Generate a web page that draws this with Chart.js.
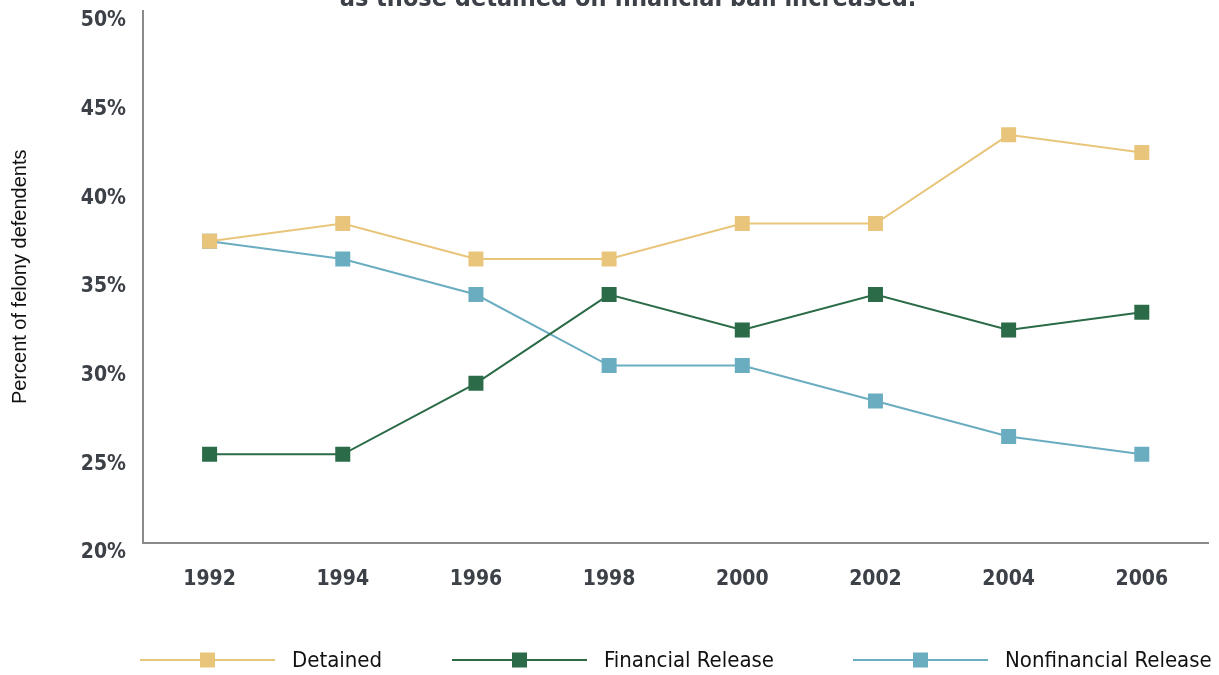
<!DOCTYPE html>
<html>
<head>
<meta charset="utf-8">
<script src="https://cdn.jsdelivr.net/npm/chart.js@4"></script>
<style>
  html, body { margin: 0; padding: 0; background: #fff; overflow: hidden; }
  #wrap { width: 1219px; height: 675px; position: relative; }
</style>
</head>
<body>
<div id="wrap"><canvas id="myChart"></canvas></div>
<script>
const ctx = document.getElementById('myChart');

const years = ['1992', '1994', '1996', '1998', '2000', '2002', '2004', '2006'];
const detained = [37, 38, 36, 36, 38, 38, 43, 42];
const financial = [25, 25, 29, 34, 32, 34, 32, 33];
const nonfinancial = [37, 36, 34, 30, 30, 28, 26, 25];
const seriesNames = ['Detained', 'Financial Release', 'Nonfinancial Release'];
const colors = ['#e9c57b', '#2b6b48', '#6aadc0'];

const condensed = "'Liberation Sans Narrow', 'DejaVu Sans Condensed', 'Roboto', sans-serif";

// cut-off headline at the very top + legend with line and marker
const extras = {
    id: 'extras',
    afterDraw(chart) {
        const c = chart.ctx;
        c.save();
        c.fillStyle = '#3c4047';
        c.font = "bold 25px " + condensed;
        c.textAlign = 'center';
        c.textBaseline = 'alphabetic';
        c.fillText('as those detained on financial bail increased.', 628, 6);

        const y = 660;
        const starts = [140, 452, 853];
        chart.data.datasets.forEach(function (ds, i) {
            const x0 = starts[i];
            c.strokeStyle = ds.borderColor;
            c.lineWidth = 2;
            c.beginPath();
            c.moveTo(x0, y);
            c.lineTo(x0 + 135, y);
            c.stroke();
            c.fillStyle = ds.borderColor;
            c.fillRect(x0 + 60, y - 7.5, 15, 15);
            c.fillStyle = '#111';
            c.font = "22px " + condensed;
            c.textAlign = 'left';
            c.textBaseline = 'middle';
            c.fillText(ds.label, x0 + 152, y + 1);
        });
        c.restore();
    }
};

function series(label, data, color) {
    return {
        label: label,
        data: data,
        borderColor: color,
        backgroundColor: color,
        borderWidth: 2,
        pointStyle: 'rect',
        pointRadius: 10.6,
        pointHoverRadius: 10.6,
        pointBorderWidth: 0,
        tension: 0
    };
}

const myChart = new Chart(ctx, {
    type: 'line',
    data: {
        labels: years,
        datasets: [
            series(seriesNames[0], detained, colors[0]),
            series(seriesNames[1], financial, colors[1]),
            series(seriesNames[2], nonfinancial, colors[2])
        ]
    },
    options: {
        responsive: true,
        maintainAspectRatio: false,
        animation: false,
        layout: { padding: { top: 10, right: 9, left: 0, bottom: 0 } },
        plugins: {
            legend: { display: false },
            tooltip: { enabled: false }
        },
        scales: {
            x: {
                offset: true,
                grid: { display: false, drawTicks: false },
                border: { color: '#8a8a8a', width: 2 },
                ticks: {
                    color: '#3c4047',
                    padding: 24,
                    font: { family: condensed, size: 21, weight: 'bold' }
                },
                afterFit(scale) {
                    scale.height = 132;
                    scale.paddingLeft = 0;
                    scale.paddingRight = 0;
                }
            },
            y: {
                min: 20,
                max: 50,
                grid: { display: false, drawTicks: false },
                border: { color: '#8a8a8a', width: 2 },
                ticks: {
                    stepSize: 5,
                    color: '#3c4047',
                    padding: 17,
                    labelOffset: 10,
                    font: { family: condensed, size: 21, weight: 'bold' },
                    callback: function (v) { return v + '%'; }
                },
                title: {
                    display: true,
                    text: 'Percent of felony defendents',
                    color: '#111',
                    padding: { top: 8, bottom: 0 },
                    font: { family: "'Liberation Sans', Arial, sans-serif", size: 20 }
                },
                afterFit(scale) {
                    scale.width = 143;
                    scale.paddingTop = 0;
                    scale.paddingBottom = 0;
                }
            }
        }
    },
    plugins: [extras]
});
</script>
</body>
</html>
